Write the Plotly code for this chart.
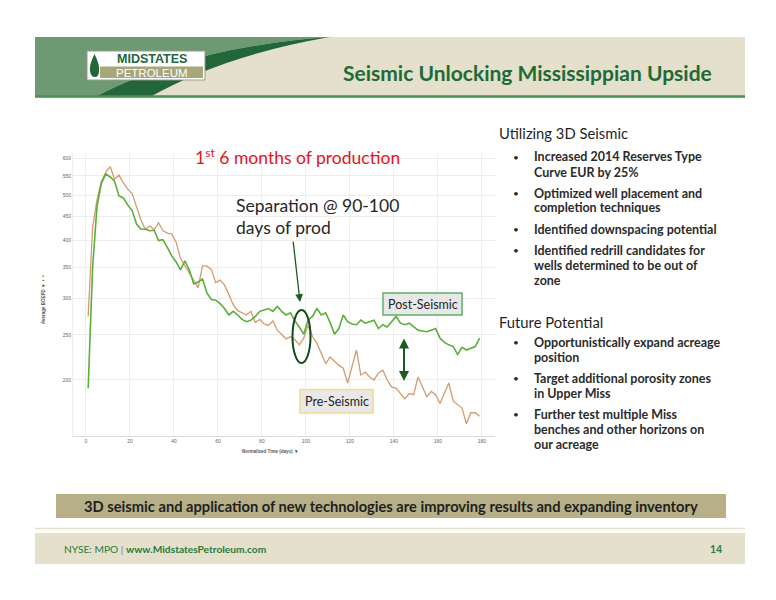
import math
import plotly.graph_objects as go

# ---------------- data ----------------
days = [1, 3, 5, 7, 9, 11, 13, 15, 17, 19,
        21, 23, 25, 27, 29, 31, 33, 35, 37, 39,
        41, 43, 45, 47, 49, 51, 53, 55, 57, 59,
        61, 63, 65, 67, 69, 71, 73, 75, 77, 79,
        81, 83, 85, 87, 89, 91, 93, 95, 97, 99,
        101, 103, 105, 107, 109, 111, 113, 115, 117, 119,
        121, 123, 125, 127, 129, 131, 133, 135, 137, 139,
        141, 143, 145, 147, 149, 151, 153, 155, 157, 159,
        161, 163, 165, 167, 169, 171, 173, 175, 177, 179]

post_seismic = [192, 348, 472, 530, 555, 547, 536, 498, 493, 476,
                463, 433, 422, 422, 419, 420, 399, 401, 386, 370,
                359, 345, 361, 345, 322, 325, 330, 308, 298, 297,
                292, 285, 276, 281, 276, 270, 267, 269, 274, 281,
                283, 285, 281, 288, 281, 276, 279, 268, 260, 251,
                269, 274, 285, 276, 279, 266, 251, 258, 276, 267,
                264, 263, 269, 265, 267, 269, 258, 263, 260, 267,
                274, 265, 263, 265, 260, 256, 255, 254, 256, 258,
                246, 241, 238, 236, 227, 235, 232, 234, 236, 246]

pre_seismic = [274, 425, 488, 535, 560, 576, 541, 552, 531, 515,
               504, 474, 442, 422, 429, 421, 436, 419, 414, 412,
               396, 365, 352, 340, 328, 316, 352, 352, 346, 324,
               328, 320, 305, 290, 282, 279, 276, 281, 266, 270,
               264, 262, 268, 256, 251, 245, 248, 244, 238, 246,
               262, 248, 240, 228, 217, 224, 219, 215, 212, 197,
               214, 232, 205, 208, 203, 200, 207, 210, 200, 193,
               192, 187, 182, 187, 186, 203, 193, 184, 189, 186,
               178, 187, 197, 180, 177, 174, 161, 170, 170, 167]

x_ticks = [0, 20, 40, 60, 80, 100, 120, 140, 160, 180]
y_ticks = [200, 250, 300, 350, 400, 450, 500, 550, 600]

title = "Seismic Unlocking Mississippian Upside"
chart_title = "1<sup>st</sup> 6 months of production"
separation_lines = ["Separation @ 90-100", "days of prod"]
heading1 = "Utilizing 3D Seismic"
bullets1 = [["Increased 2014 Reserves Type", "Curve EUR by 25%"],
            ["Optimized well placement and", "completion techniques"],
            ["Identified downspacing potential"],
            ["Identified redrill candidates for", "wells determined to be out of", "zone"]]
heading2 = "Future Potential"
bullets2 = [["Opportunistically expand acreage", "position"],
            ["Target additional porosity zones", "in Upper Miss"],
            ["Further test multiple Miss", "benches and other horizons on", "our acreage"]]
banner = "3D seismic and application of new technologies are improving results and expanding inventory"
footer_left = "NYSE: MPO <span style='color:#7a7a7a'>|</span> <b>www.MidstatesPetroleum.com</b>"
page_no = "14"

# ---------------- helpers ----------------
W, H = 776, 600
OFF = 8  # page body margin
FONT = "Lato"


def X(p):
    return (p - OFF) / W


def Y(p):
    return 1 - (p - OFF) / H


def path(cmds):
    out = []
    for c in cmds:
        if c[0] == "Z":
            out.append("Z")
        else:
            nums = c[1:]
            pts = []
            for i in range(0, len(nums), 2):
                pts.append(f"{X(nums[i]):.5f},{Y(nums[i+1]):.5f}")
            out.append(c[0] + " " + " ".join(pts))
    return " ".join(out)


def text(x, y, s, size, color, family=FONT, xa="center", ya="middle", **kw):
    d = dict(x=X(x), y=Y(y), xref="paper", yref="paper", xanchor=xa, yanchor=ya,
             text=s, showarrow=False, font=dict(family=family, size=size, color=color))
    d.update(kw)
    return d


fig = go.Figure()

GREEN = "#5BAE3C"
ORANGE = "#D39B6E"

fig.add_trace(go.Scatter(x=days, y=pre_seismic, mode="lines",
                         line=dict(color=ORANGE, width=1.3), hoverinfo="skip"))
fig.add_trace(go.Scatter(x=days, y=post_seismic, mode="lines",
                         line=dict(color=GREEN, width=1.6), hoverinfo="skip"))

shapes = []
ann = []

# ---------------- header ----------------
shapes.append(dict(type="rect", xref="paper", yref="paper", x0=X(35), x1=X(745), y0=Y(97), y1=Y(37),
                   fillcolor="#E4E0CC", line=dict(width=0), layer="below"))
shapes.append(dict(type="path", xref="paper", yref="paper", layer="below",
                   path=path([("M", 35, 37), ("L", 330, 37), ("Q", 190, 47, 95, 97), ("L", 35, 97), ("Z",)]),
                   fillcolor="#6E9A73", line=dict(width=0)))
shapes.append(dict(type="path", xref="paper", yref="paper", layer="below",
                   path=path([("M", 95, 97), ("Q", 190, 47, 330, 37), ("Q", 225, 55, 150, 97), ("Z",)]),
                   fillcolor="#23663A", line=dict(width=0)))
shapes.append(dict(type="line", xref="paper", yref="paper", x0=X(35), x1=X(745), y0=Y(96.5), y1=Y(96.5),
                   line=dict(color="#4E8C56", width=2.5)))
# logo
shapes.append(dict(type="rect", xref="paper", yref="paper", x0=X(87), x1=X(205), y0=Y(80), y1=Y(51),
                   fillcolor="#FFFFFF", line=dict(color="#9A9A8A", width=1)))
shapes.append(dict(type="rect", xref="paper", yref="paper", x0=X(100), x1=X(203), y0=Y(78), y1=Y(66.5),
                   fillcolor="#A8A67B", line=dict(width=0)))
shapes.append(dict(type="path", xref="paper", yref="paper",
                   path=path([("M", 94.5, 54), ("Q", 89, 65, 90, 71), ("Q", 91, 77, 94.5, 77),
                              ("Q", 99, 77, 99, 71), ("Q", 100, 65, 94.5, 54), ("Z",)]),
                   fillcolor="#23663A", line=dict(width=0)))
ann.append(text(152, 59, "<b>MIDSTATES</b>", 12.5, "#23663A", family="Liberation Sans"))
ann.append(text(152, 72.5, "PETROLEUM", 11.5, "#FFFFFF", family="Liberation Sans"))
ann.append(text(714, 72, f"<b>{title}</b>", 21, "#1E6B36", xa="right"))

# ---------------- chart annotations ----------------
ann.append(text(297.5, 157, chart_title, 17.5, "#E3151B"))
for i, line in enumerate(separation_lines):
    ann.append(text(234, 205 + 22 * i, line, 17.5, "#262626", xa="left"))
# arrow pointing to separation
ann.append(dict(x=X(300), y=Y(302), xref="paper", yref="paper", ax=-7, ay=-62, text="",
                showarrow=True, arrowhead=2, arrowsize=1.2, arrowwidth=1.3, arrowcolor="#1C5A22"))
# ellipse
shapes.append(dict(type="circle", xref="paper", yref="paper", x0=X(292.5), x1=X(310.5), y0=Y(363), y1=Y(310),
                   line=dict(color="#124A18", width=2)))
# double arrow
ann.append(dict(x=X(404), y=Y(381), xref="paper", yref="paper", ax=0, ay=-44, text="",
                showarrow=True, arrowhead=2, startarrowhead=2, arrowside="end+start",
                arrowsize=1, arrowwidth=2, arrowcolor="#1C5A22"))
# labels
shapes.append(dict(type="rect", xref="paper", yref="paper", x0=X(383), x1=X(462), y0=Y(315), y1=Y(293),
                   fillcolor="#E8E8E8", line=dict(color="#5DB06A", width=1.5)))
ann.append(text(422.5, 304, "Post-Seismic", 12.5, "#262626"))
shapes.append(dict(type="rect", xref="paper", yref="paper", x0=X(300), x1=X(373), y0=Y(413), y1=Y(389.5),
                   fillcolor="#E8E8E8", line=dict(color="#F2D98C", width=1.5)))
ann.append(text(336.5, 401, "Pre-Seismic", 12.5, "#262626"))
# axis titles
ann.append(text(270, 451, "<b>Normalized Time (days)  ▾</b>", 4.5, "#555555", family="Liberation Sans"))
ann.append(text(43, 300, "<b>Average BOEPD  ▾  •  •</b>", 4.5, "#555555", family="Liberation Sans",
                textangle=-90))

# ---------------- right text ----------------
TXT = "#2B2B2B"


def add_block(heading, hy, blocks, start_y):
    ann.append(text(497, hy, heading, 14.8, "#1F1F1F", xa="left"))
    y = start_y
    for blk in blocks:
        ann.append(text(511, y, "•", 10, TXT, xa="left"))
        for ln in blk:
            ann.append(text(532, y, f"<b>{ln}</b>", 12.5, TXT, xa="left"))
            y += 15
        y += 6


add_block(heading1, 133, bullets1, 157)
add_block(heading2, 322, bullets2, 342)

# ---------------- banner & footer ----------------
shapes.append(dict(type="rect", xref="paper", yref="paper", x0=X(56), x1=X(726), y0=Y(518), y1=Y(494),
                   fillcolor="#B6AF87", line=dict(width=0)))
ann.append(text(391, 506, f"<b>{banner}</b>", 14.7, "#1F1F1F"))
shapes.append(dict(type="line", xref="paper", yref="paper", x0=X(35), x1=X(745), y0=Y(528.5), y1=Y(528.5),
                   line=dict(color="#E4E0CC", width=1.5)))
shapes.append(dict(type="rect", xref="paper", yref="paper", x0=X(35), x1=X(745), y0=Y(564), y1=Y(533),
                   fillcolor="#E4E0CC", line=dict(width=0), layer="below"))
ann.append(text(62, 549, footer_left, 10.2, "#2A7A3C", xa="left"))
ann.append(text(724, 549, f"<b>{page_no}</b>", 10.5, "#2A7A3C", xa="right"))

fig.update_layout(
    width=W, height=H, margin=dict(l=0, r=0, t=0, b=0),
    paper_bgcolor="white", plot_bgcolor="white", showlegend=False,
    shapes=shapes, annotations=ann,
    xaxis=dict(domain=[X(73), X(495)], range=[-5.9, 186], tickvals=x_ticks,
               showgrid=True, gridcolor="#EDEDED", gridwidth=1, zeroline=False,
               showline=True, linecolor="#DADADA", linewidth=1, ticks="",
               tickfont=dict(family="Liberation Sans", size=5, color="#666666")),
    yaxis=dict(domain=[Y(436), Y(153)], type="log", range=[math.log10(151.5), math.log10(616)],
               tickvals=y_ticks, ticktext=[str(v) for v in y_ticks],
               showgrid=True, gridcolor="#EDEDED", gridwidth=1, zeroline=False,
               showline=True, linecolor="#EDEDED", linewidth=1, ticks="",
               tickfont=dict(family="Liberation Sans", size=5, color="#666666")),
)

fig.write_html("out.html")
